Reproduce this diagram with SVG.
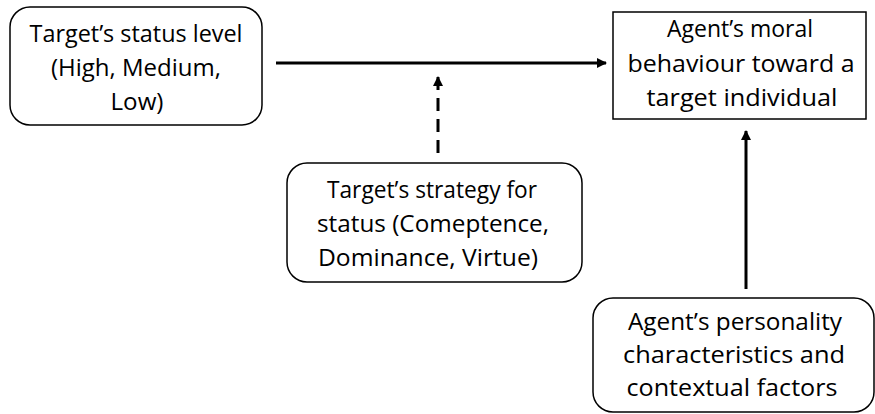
<svg xmlns="http://www.w3.org/2000/svg" width="875" height="414" viewBox="0 0 875 414">
  <style>
    .box { fill: #ffffff; stroke: #000000; stroke-width: 1.5; }
    .label { font-family: "Open Sans", "Noto Sans", "Liberation Sans", sans-serif; font-size: 24px; fill: #000000; text-anchor: middle; }
    .link { fill: none; stroke: #000000; stroke-width: 3; }
    .dashed { stroke-dasharray: 13 8; }
  </style>
  <defs>
    <marker id="arrow" viewBox="0 0 10 10" refX="9" refY="5" markerWidth="3.4" markerHeight="3.4" orient="auto" markerUnits="strokeWidth">
      <path d="M0,0 L10,5 L0,10 Z" fill="#000000"/>
    </marker>
  </defs>
  <rect width="875" height="414" fill="#ffffff"/>

  <g id="connectors">
    <line class="link" x1="276" y1="63" x2="606" y2="63" marker-end="url(#arrow)"/>
    <line class="link dashed" x1="438" y1="153" x2="438" y2="77" marker-end="url(#arrow)"/>
    <line class="link" x1="746" y1="289" x2="746" y2="131" marker-end="url(#arrow)"/>
  </g>

  <g id="status-level">
    <rect class="box" x="10" y="7" width="252" height="118" rx="20" ry="20"/>
    <text class="label" x="136" y="42" textLength="213" lengthAdjust="spacingAndGlyphs">Target’s status level</text>
    <text class="label" x="136" y="76" textLength="170" lengthAdjust="spacingAndGlyphs">(High, Medium,</text>
    <text class="label" x="137" y="110" textLength="53" lengthAdjust="spacingAndGlyphs">Low)</text>
  </g>

  <g id="moral-behaviour">
    <rect class="box" x="613" y="12" width="253" height="107"/>
    <text class="label" x="740" y="37" textLength="146" lengthAdjust="spacingAndGlyphs">Agent’s moral</text>
    <text class="label" x="741" y="72" textLength="227" lengthAdjust="spacingAndGlyphs">behaviour toward a</text>
    <text class="label" x="742" y="106" textLength="191" lengthAdjust="spacingAndGlyphs">target individual</text>
  </g>

  <g id="status-strategy">
    <rect class="box" x="287" y="163" width="295" height="119" rx="20" ry="20"/>
    <text class="label" x="432" y="198" textLength="210" lengthAdjust="spacingAndGlyphs">Target’s strategy for</text>
    <text class="label" x="433" y="232" textLength="232" lengthAdjust="spacingAndGlyphs">status (Comeptence,</text>
    <text class="label" x="428" y="266" textLength="220" lengthAdjust="spacingAndGlyphs">Dominance, Virtue)</text>
  </g>

  <g id="agent-factors">
    <rect class="box" x="593" y="298" width="281" height="114" rx="20" ry="20"/>
    <text class="label" x="735" y="330" textLength="214" lengthAdjust="spacingAndGlyphs">Agent’s personality</text>
    <text class="label" x="734" y="363" textLength="222" lengthAdjust="spacingAndGlyphs">characteristics and</text>
    <text class="label" x="732" y="396" textLength="211" lengthAdjust="spacingAndGlyphs">contextual factors</text>
  </g>
</svg>
